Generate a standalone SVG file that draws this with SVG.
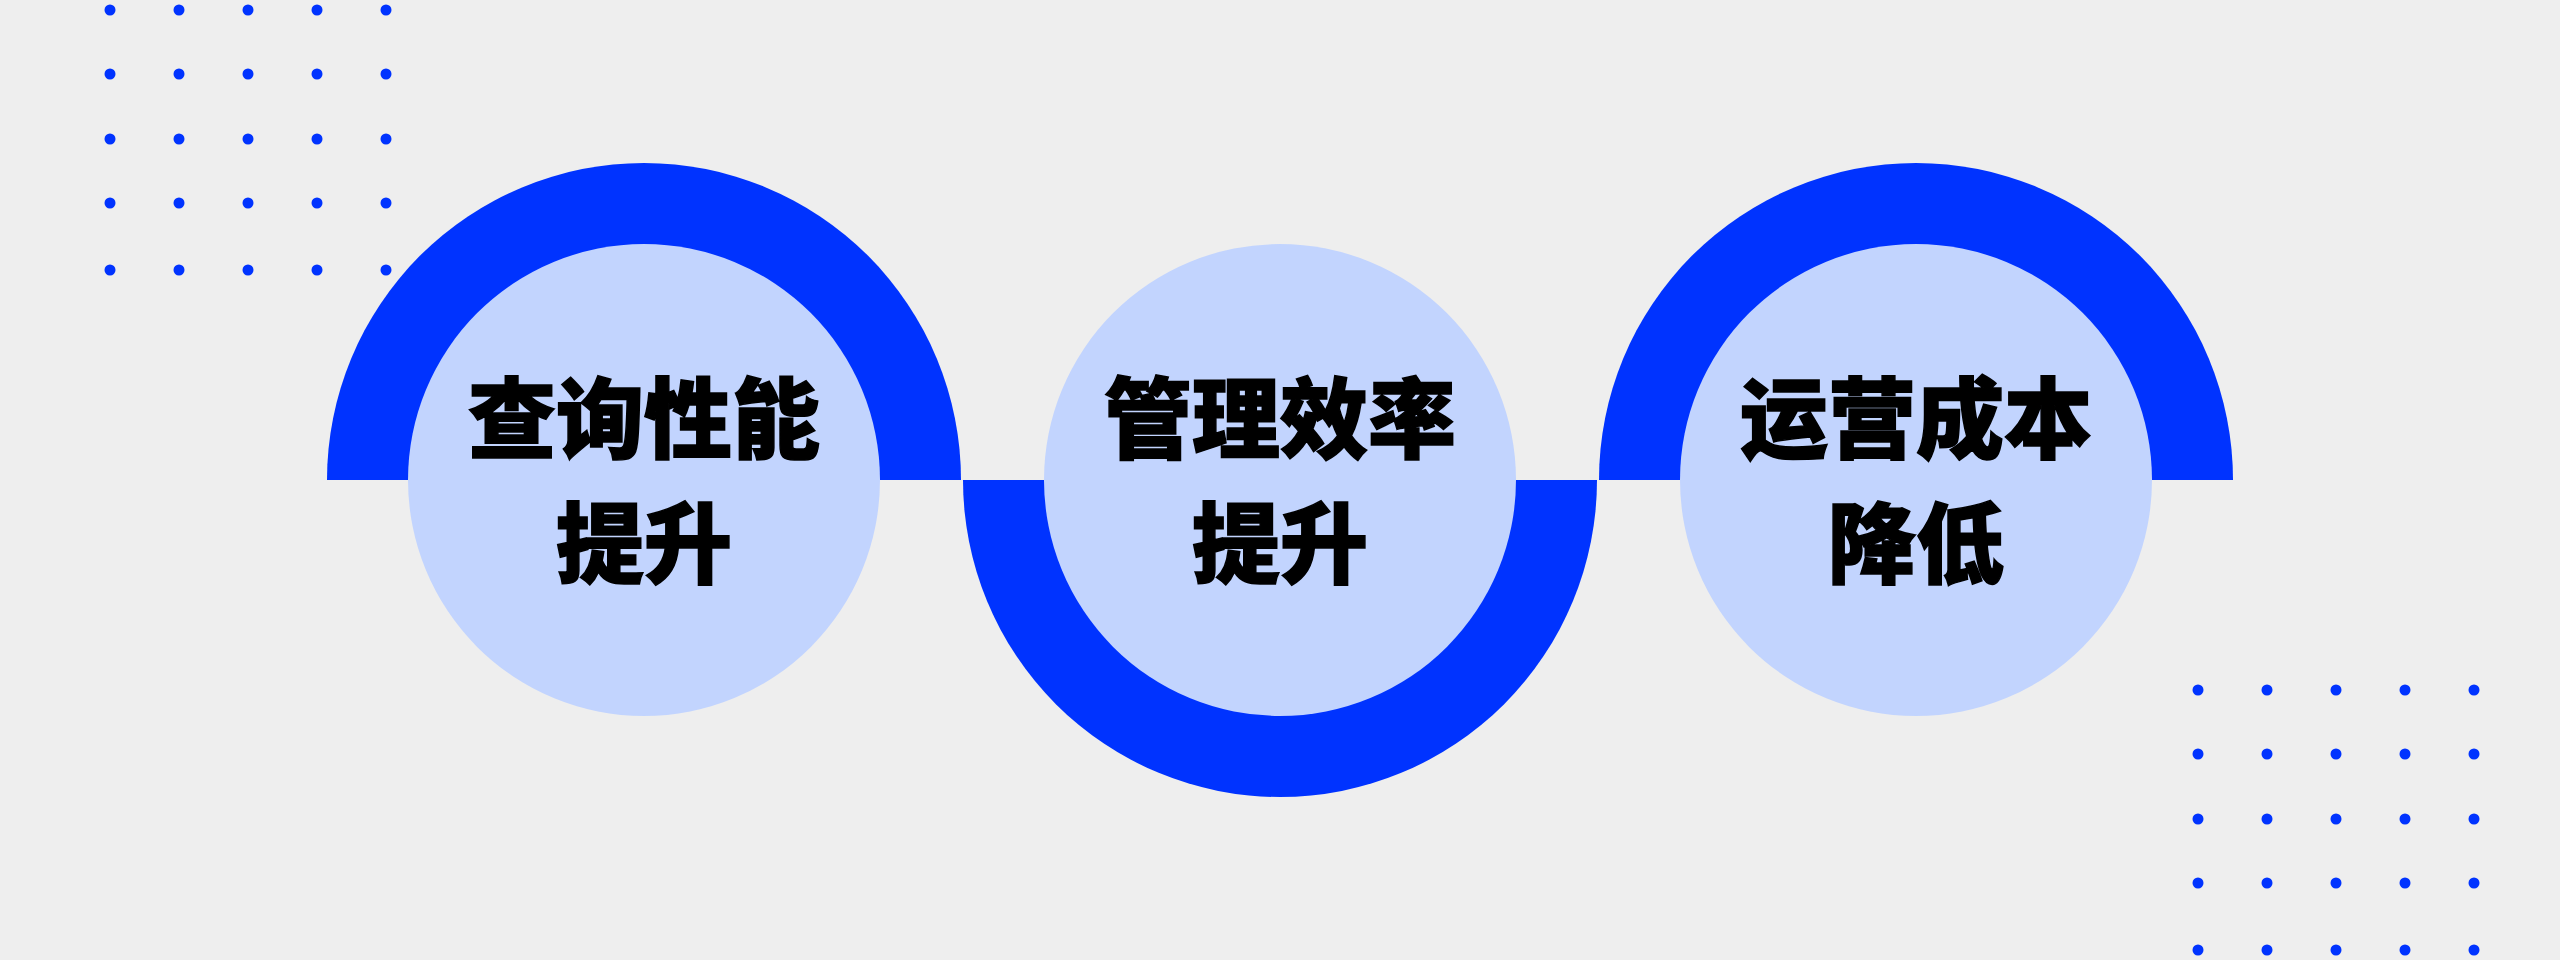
<svg xmlns="http://www.w3.org/2000/svg" width="2560" height="960" viewBox="0 0 2560 960">
  <style>
    .bg { fill: #EEEEEE; }
    .arc { fill: #0033FF; }
    .disc { fill: #C2D4FE; }
    .dot { fill: #0033FF; }
    .label { font-family: "Noto Sans CJK SC", "Noto Sans", sans-serif; font-weight: 900; font-size: 88px; fill: #000000; stroke: #000000; stroke-width: 1.5; stroke-linejoin: miter; text-anchor: middle; }
  </style>
  <defs>
    <g id="dotgrid">
      <circle class="dot" cx="0" cy="0" r="5.5"/>
      <circle class="dot" cx="69" cy="0" r="5.5"/>
      <circle class="dot" cx="138" cy="0" r="5.5"/>
      <circle class="dot" cx="207" cy="0" r="5.5"/>
      <circle class="dot" cx="276" cy="0" r="5.5"/>
      <circle class="dot" cx="0" cy="64" r="5.5"/>
      <circle class="dot" cx="69" cy="64" r="5.5"/>
      <circle class="dot" cx="138" cy="64" r="5.5"/>
      <circle class="dot" cx="207" cy="64" r="5.5"/>
      <circle class="dot" cx="276" cy="64" r="5.5"/>
      <circle class="dot" cx="0" cy="129" r="5.5"/>
      <circle class="dot" cx="69" cy="129" r="5.5"/>
      <circle class="dot" cx="138" cy="129" r="5.5"/>
      <circle class="dot" cx="207" cy="129" r="5.5"/>
      <circle class="dot" cx="276" cy="129" r="5.5"/>
      <circle class="dot" cx="0" cy="193" r="5.5"/>
      <circle class="dot" cx="69" cy="193" r="5.5"/>
      <circle class="dot" cx="138" cy="193" r="5.5"/>
      <circle class="dot" cx="207" cy="193" r="5.5"/>
      <circle class="dot" cx="276" cy="193" r="5.5"/>
      <circle class="dot" cx="0" cy="260" r="5.5"/>
      <circle class="dot" cx="69" cy="260" r="5.5"/>
      <circle class="dot" cx="138" cy="260" r="5.5"/>
      <circle class="dot" cx="207" cy="260" r="5.5"/>
      <circle class="dot" cx="276" cy="260" r="5.5"/>
    </g>
  </defs>
  <rect class="bg" x="0" y="0" width="2560" height="960"/>
  <g id="decor">
    <use href="#dotgrid" x="110" y="10"/>
    <use href="#dotgrid" x="2198" y="690"/>
  </g>
  <g id="connectors">
    <path class="arc" d="M 327 480 A 317 317 0 0 1 961 480 Z"/>
    <path class="arc" d="M 963 480 A 317 317 0 0 0 1597 480 Z"/>
    <path class="arc" d="M 1599 480 A 317 317 0 0 1 2233 480 Z"/>
  </g>
  <g id="node1">
    <circle class="disc" cx="644" cy="480" r="236"/>
    <text class="label" x="644" y="451">查询性能</text>
    <text class="label" x="644" y="576">提升</text>
  </g>
  <g id="node2">
    <circle class="disc" cx="1280" cy="480" r="236"/>
    <text class="label" x="1280" y="451">管理效率</text>
    <text class="label" x="1280" y="576">提升</text>
  </g>
  <g id="node3">
    <circle class="disc" cx="1916" cy="480" r="236"/>
    <text class="label" x="1916" y="451">运营成本</text>
    <text class="label" x="1916" y="576">降低</text>
  </g>
</svg>
